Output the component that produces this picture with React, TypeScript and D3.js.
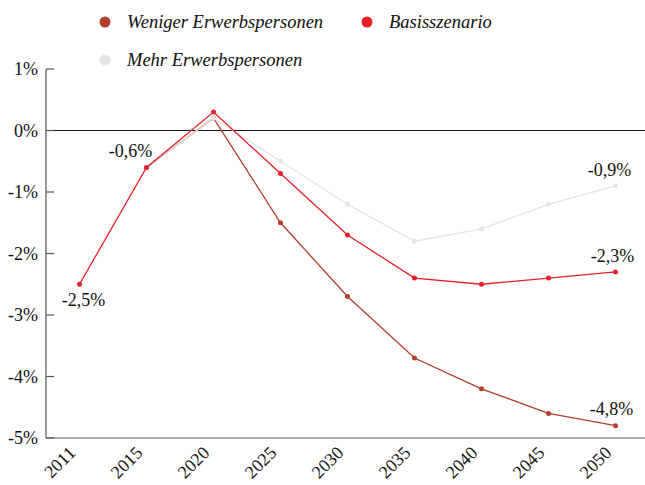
import { useEffect, useRef } from 'react'
import * as d3 from 'd3'

const years = ['2011', '2015', '2020', '2025', '2030', '2035', '2040', '2045', '2050']
const weniger: (number | null)[] = [null, -0.6, 0.2, -1.5, -2.7, -3.7, -4.2, -4.6, -4.8]
const basis: (number | null)[] = [-2.5, -0.6, 0.3, -0.7, -1.7, -2.4, -2.5, -2.4, -2.3]
const mehr: (number | null)[] = [null, -0.6, 0.2, -0.5, -1.2, -1.8, -1.6, -1.2, -0.9]
const yTicks = [1, 0, -1, -2, -3, -4, -5]

const seriesNames = ['Weniger Erwerbspersonen', 'Basisszenario', 'Mehr Erwerbspersonen']
const colors = ['#b13f2c', '#e8202a', '#e4e4e4']

const fmt = (v: number) => `${v}`.replace('.', ',') + '%'

export default function App() {
  const svgRef = useRef<SVGSVGElement | null>(null)
  const width = 645
  const height = 485

  useEffect(() => {
    if (!svgRef.current) return
    const svg = d3.select(svgRef.current)
    svg.selectAll('*').remove()
    const font = '"Liberation Serif", "DejaVu Serif", serif'

    const x = d3.scalePoint<string>().domain(years).range([46, 649]).padding(0.5)
    const y = d3.scaleLinear().domain([-5, 1]).range([438, 69])
    const left = 46
    const right = 645

    // axes
    svg.append('line')
      .attr('x1', left).attr('x2', left).attr('y1', y(1)).attr('y2', y(-5))
      .attr('stroke', '#555').attr('stroke-width', 1.2)
    svg.append('line')
      .attr('x1', left).attr('x2', right).attr('y1', y(-5)).attr('y2', y(-5))
      .attr('stroke', '#555').attr('stroke-width', 1.2)
    svg.append('line')
      .attr('x1', left).attr('x2', right).attr('y1', y(0)).attr('y2', y(0))
      .attr('stroke', '#111').attr('stroke-width', 1)

    const yt = svg.append('g')
    yTicks.forEach(t => {
      yt.append('line')
        .attr('x1', left).attr('x2', left + 8).attr('y1', y(t)).attr('y2', y(t))
        .attr('stroke', '#555').attr('stroke-width', 1.2)
      yt.append('text')
        .attr('x', 38).attr('y', y(t)).attr('dy', '0.35em')
        .attr('text-anchor', 'end')
        .attr('font-family', font).attr('font-size', 18).attr('fill', '#111')
        .text(`${t}%`)
    })

    const xt = svg.append('g')
    years.forEach(yr => {
      xt.append('text')
        .attr('transform', `translate(${(x(yr) ?? 0) - 3},${454}) rotate(-45)`)
        .attr('text-anchor', 'end')
        .attr('font-family', font).attr('font-size', 18).attr('fill', '#111')
        .text(yr)
    })

    const data = [weniger, basis, mehr]
    const order = [0, 2, 1]
    const line = d3.line<number | null>()
      .defined(d => d !== null)
      .x((_, i) => x(years[i]) ?? 0)
      .y(d => y(d as number))

    order.forEach(si => {
      const vals = data[si]
      svg.append('path')
        .attr('d', line(vals) ?? '')
        .attr('fill', 'none')
        .attr('stroke', colors[si])
        .attr('stroke-width', 1.3)
      vals.forEach((v, i) => {
        if (v === null) return
        svg.append('circle')
          .attr('cx', x(years[i]) ?? 0).attr('cy', y(v)).attr('r', 2.5)
          .attr('fill', colors[si])
      })
    })

    // value labels
    const labels: { v: number; i: number; dx: number; dy: number }[] = [
      { v: basis[0] as number, i: 0, dx: 4, dy: 22 },
      { v: basis[1] as number, i: 1, dx: -16, dy: -10 },
      { v: mehr[8] as number, i: 8, dx: -6, dy: -10 },
      { v: basis[8] as number, i: 8, dx: -3, dy: -10 },
      { v: weniger[8] as number, i: 8, dx: -4, dy: -11 },
    ]
    labels.forEach(l => {
      svg.append('text')
        .attr('x', (x(years[l.i]) ?? 0) + l.dx)
        .attr('y', y(l.v) + l.dy)
        .attr('text-anchor', 'middle')
        .attr('font-family', font).attr('font-size', 18).attr('fill', '#111')
        .text(fmt(l.v))
    })

    // legend
    const legendPos = [
      { x: 105, y: 22 },
      { x: 367, y: 22 },
      { x: 105, y: 60 },
    ]
    seriesNames.forEach((name, i) => {
      const g = svg.append('g')
      g.append('circle')
        .attr('cx', legendPos[i].x).attr('cy', legendPos[i].y).attr('r', 5.5)
        .attr('fill', colors[i])
      g.append('text')
        .attr('x', legendPos[i].x + 22).attr('y', legendPos[i].y).attr('dy', '0.35em')
        .attr('font-family', font).attr('font-style', 'italic')
        .attr('font-size', 18.5).attr('fill', '#111')
        .text(name)
    })
  }, [])

  return (
    <svg
      ref={svgRef}
      width={width}
      height={height}
      style={{ position: 'absolute', left: 0, top: 0 }}
    />
  )
}
